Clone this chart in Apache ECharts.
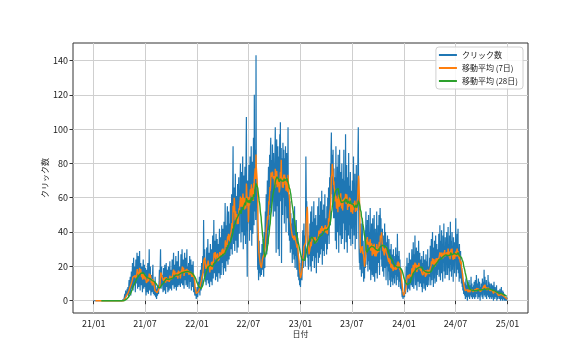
<!DOCTYPE html>
<html>
<head>
<meta charset="utf-8">
<script src="https://cdn.jsdelivr.net/npm/echarts@6/dist/echarts.min.js"></script>
<style>
html,body{margin:0;padding:0;background:#fff;}
#chart{width:586px;height:352px;}
</style>
</head>
<body>
<div id="chart"></div>
<script>
// daily clicks, one line per month
var clicks2021 = [
  0,0,0,0,0,0,0,0,0,0,0,0,0,0,0,0,0,0,0,0,0,0,0,0,0,0,0,0,0,0,0,
  0,0,0,0,0,0,0,0,0,0,0,0,0,0,0,0,0,0,0,0,0,0,0,0,0,0,0,0,
  0,0,0,0,0,0,0,0,0,0,0,0,0,0,0,0,0,0,0,0,0,0,0,0,0,0,0,0,0,0,0,
  0,0,0,0,0,0,0,0,0,0,0,0,0,0,0,0,0,1,0,2,4,1,3,6,2,1,5,3,7,4,
  3,8,5,2,9,12,6,4,11,14,8,3,13,17,10,7,15,22,12,6,16,25,9,8,20,14,11,5,18,24,13,
  10,21,28,15,7,19,26,12,8,17,23,29,14,6,18,22,11,9,16,20,13,5,12,19,24,10,7,15,21,11,
  8,14,19,6,3,12,18,10,5,13,22,16,4,9,17,30,11,6,14,20,8,3,10,15,12,5,9,16,21,7,4,
  6,11,3,2,9,14,5,2,7,4,1,6,8,3,2,5,9,4,3,12,18,8,11,22,30,14,7,16,20,9,12,
  15,8,5,13,19,10,6,14,21,12,7,4,16,22,11,8,13,18,9,5,15,20,12,6,10,17,23,9,7,14,
  18,11,6,16,24,13,9,15,22,28,12,7,17,21,14,8,19,26,10,6,15,23,17,11,8,20,29,13,9,16,12,
  20,13,8,18,27,15,10,22,30,17,9,14,24,19,11,7,21,28,16,12,25,18,9,13,23,30,14,8,17,20,
  15,22,10,7,19,26,13,11,18,24,9,6,16,21,14,8,17,23,12,5,14,11,6,3,2,5,8,4,1,3,6
];
var clicks2022 = [
  4,8,2,1,6,11,5,9,14,7,3,12,18,10,6,15,22,13,8,19,26,16,20,47,28,14,21,30,17,11,24,
  13,9,22,31,18,12,25,36,20,10,16,28,14,8,19,27,33,15,11,24,30,17,9,21,38,22,13,26,
  47,28,16,24,35,22,12,31,39,25,14,29,36,19,11,27,33,23,16,32,42,26,13,30,37,21,15,34,44,28,22,
  28,42,20,15,33,46,25,19,37,57,29,17,35,44,23,31,48,55,27,21,39,52,34,24,45,38,26,49,57,36,
  30,45,62,38,27,55,70,90,48,33,58,66,41,29,52,74,45,35,61,50,37,28,56,68,43,31,60,72,47,39,64,
  52,71,80,44,34,63,75,58,40,68,84,49,30,61,73,55,38,66,78,47,33,59,88,107,50,36,14,70,45,57,
  48,66,79,58,35,70,84,62,41,73,90,55,32,68,81,60,39,72,95,65,44,120,76,52,88,70,47,143,70,58,60,
  45,32,18,38,25,12,28,35,24,16,20,14,19,28,22,15,21,33,27,18,30,36,21,14,32,40,26,19,44,52,35,
  48,62,38,27,55,70,45,33,66,78,59,41,72,85,63,50,88,95,70,54,82,76,58,91,80,62,49,86,74,67,
  70,52,88,101,76,60,28,82,94,68,55,78,90,30,72,84,62,26,86,97,66,104,58,75,89,22,71,83,64,50,92,
  78,60,88,69,45,83,72,55,90,64,40,79,86,58,68,48,74,101,52,38,62,55,35,49,58,28,44,51,30,39,
  45,33,22,48,38,27,52,36,24,41,55,30,19,43,34,26,47,29,18,35,40,25,14,28,20,12,22,16,9,14,11
];
var clicks2023 = [
  8,15,22,18,26,12,20,32,41,28,19,36,45,24,30,38,27,20,52,84,66,48,58,40,35,25,30,22,18,33,26,
  38,27,45,20,32,52,29,17,40,55,31,23,46,36,26,42,58,30,19,37,48,25,34,50,28,16,44,35,
  41,28,55,33,22,47,60,36,25,50,39,27,58,42,30,45,64,35,21,48,53,38,29,56,44,26,40,62,33,47,36,
  34,48,27,55,42,30,60,45,38,66,50,33,58,72,52,44,80,68,90,98,75,62,85,70,55,88,64,48,77,59,
  66,48,72,35,58,90,44,30,62,55,78,40,52,85,61,28,70,47,88,56,38,64,75,42,33,68,80,50,36,59,71,
  45,62,88,53,30,70,57,41,97,66,34,60,79,48,28,55,72,63,38,86,51,44,67,36,58,75,49,32,64,56,
  58,42,70,33,61,49,84,52,38,66,45,74,30,57,63,47,79,36,55,68,60,72,88,101,66,40,28,22,30,18,25,
  32,45,26,14,38,20,48,29,16,35,22,11,18,24,13,30,41,19,36,52,27,44,33,21,47,39,17,28,50,35,23,
  40,18,31,54,26,12,37,29,45,20,15,33,48,24,14,36,27,50,19,11,30,42,25,16,38,28,52,21,13,34,
  28,44,22,36,50,26,15,39,54,46,31,48,24,37,20,33,42,17,29,38,25,14,35,27,45,19,32,40,23,12,30,
  34,20,26,38,15,9,28,22,36,17,24,12,30,19,8,25,33,14,21,11,27,16,9,23,30,13,18,26,10,20,
  24,15,31,18,9,27,20,12,39,22,14,26,17,8,29,21,11,24,16,7,19,13,6,10,4,2,5,3,1,4,2
];
var clicks2024 = [
  3,5,2,8,12,6,4,14,20,9,16,25,11,5,18,13,22,7,15,28,10,6,19,24,12,17,9,21,30,14,8,
  23,16,34,12,7,20,27,18,38,14,9,25,19,31,13,6,22,29,17,11,26,35,15,8,21,28,16,10,24,
  12,20,8,26,15,5,18,22,10,29,14,7,19,24,11,16,6,21,27,13,9,17,23,8,30,12,15,20,9,14,18,
  25,14,32,18,9,27,36,20,12,29,40,16,22,8,31,24,13,35,19,10,28,38,17,26,11,33,21,15,30,23,
  27,18,39,14,31,24,44,20,12,35,28,16,41,25,33,19,11,38,29,22,45,17,30,26,13,37,21,34,15,28,40,
  22,36,15,29,43,19,26,33,12,38,24,17,46,30,21,35,14,27,40,18,32,25,11,37,28,20,34,16,29,23,
  30,48,21,14,35,26,39,18,28,42,16,31,24,11,33,20,27,13,29,17,22,10,19,14,8,16,6,12,9,4,11,
  7,3,10,5,1,8,13,4,2,9,6,0,11,3,5,8,2,12,4,1,7,9,3,6,14,2,5,10,4,1,8,
  6,2,9,4,11,3,1,7,12,5,2,8,15,4,3,10,6,1,9,13,5,2,7,11,4,0,8,3,6,10,
  4,9,2,13,6,1,8,11,5,18,3,7,14,2,6,10,4,12,1,8,5,9,3,15,6,2,11,4,7,1,10,
  5,2,8,3,10,1,6,4,9,2,7,0,5,11,3,6,1,8,4,2,7,3,9,0,5,2,6,1,4,3,
  6,2,4,1,7,3,0,5,2,8,1,4,3,0,6,2,5,1,3,0,4,2,1,3,0,2,1,0,2,1,1
];
var tickLabels = ['21/01','21/07','22/01','22/07','23/01','23/07','24/01','24/07','25/01'];
var yTicks = [0, 20, 40, 60, 80, 100, 120, 140];

var DAY = 86400000;
var startTime = Date.UTC(2021, 0, 1);
var clicks = clicks2021.concat(clicks2022, clicks2023, clicks2024);

function rolling(arr, w) {
  var out = [], s = 0;
  for (var i = 0; i < arr.length; i++) {
    s += arr[i];
    if (i >= w) s -= arr[i - w];
    out.push(i >= w - 1 ? s / w : null);
  }
  return out;
}
function toPairs(arr) {
  var out = [];
  for (var i = 0; i < arr.length; i++) out.push([startTime + i * DAY, arr[i]]);
  return out;
}
var tickTimes = tickLabels.map(function (t) {
  return Date.UTC(2000 + parseInt(t.slice(0, 2), 10), parseInt(t.slice(3), 10) - 1, 1);
});
var endTime = startTime + (clicks.length - 1) * DAY;
var pad = (endTime - startTime) * 0.05;

var font = 'Noto Sans CJK JP';
var chart = echarts.init(document.getElementById('chart'));
chart.setOption({
  animation: false,
  textStyle: { fontFamily: font },
  grid: {
    left: 73, right: 58, top: 43, bottom: 39,
    show: true, borderColor: '#333', borderWidth: 1, backgroundColor: '#fff'
  },
  legend: {
    orient: 'vertical', right: 63, top: 47,
    padding: [3, 5, 3, 3], itemGap: 3, itemWidth: 18, itemHeight: 2,
    icon: 'rect',
    borderColor: '#d0d0d0', borderWidth: 1, borderRadius: 3,
    backgroundColor: 'rgba(255,255,255,0.85)',
    textStyle: { fontSize: 8, lineHeight: 10, color: '#222', fontFamily: font },
    data: ['クリック数', '移動平均 (7日)', '移動平均 (28日)']
  },
  xAxis: {
    type: 'value',
    min: startTime - pad,
    max: endTime + pad,
    name: '日付', nameLocation: 'middle', nameGap: 17, nameMoveOverlap: false,
    nameTextStyle: { fontSize: 8, color: '#222' },
    axisLine: { show: false },
    axisTick: { show: true, customValues: tickTimes, length: 3.5, lineStyle: { color: '#333' } },
    axisLabel: {
      customValues: tickTimes, fontSize: 9, color: '#222', margin: 6,
      formatter: function (v) {
        var d = new Date(v);
        var yy = String(d.getUTCFullYear()).slice(2);
        var mm = d.getUTCMonth() + 1;
        return yy + '/' + (mm < 10 ? '0' + mm : mm);
      }
    },
    splitLine: { show: true, lineStyle: { color: '#cfcfcf', width: 1 } }
  },
  yAxis: {
    type: 'value',
    min: -7.15, max: 150.15,
    name: 'クリック数', nameLocation: 'middle', nameGap: 24, nameMoveOverlap: false,
    nameTextStyle: { fontSize: 8, color: '#222' },
    axisLine: { show: false },
    axisTick: { show: true, customValues: yTicks, length: 3.5, lineStyle: { color: '#333' } },
    axisLabel: { customValues: yTicks, fontSize: 9, color: '#222', margin: 5 },
    splitLine: { show: true, lineStyle: { color: '#cfcfcf', width: 1 } }
  },
  series: [
    {
      name: 'クリック数', type: 'line', data: toPairs(clicks),
      showSymbol: false, symbol: 'none', sampling: 'none',
      color: '#1f77b4', lineStyle: { width: 1.2 }
    },
    {
      name: '移動平均 (7日)', type: 'line', data: toPairs(rolling(clicks, 7)),
      showSymbol: false, symbol: 'none',
      color: '#ff7f0e', lineStyle: { width: 1.4 }
    },
    {
      name: '移動平均 (28日)', type: 'line', data: toPairs(rolling(clicks, 28)),
      showSymbol: false, symbol: 'none',
      color: '#2ca02c', lineStyle: { width: 1.4 }
    }
  ]
});
</script>
</body>
</html>
